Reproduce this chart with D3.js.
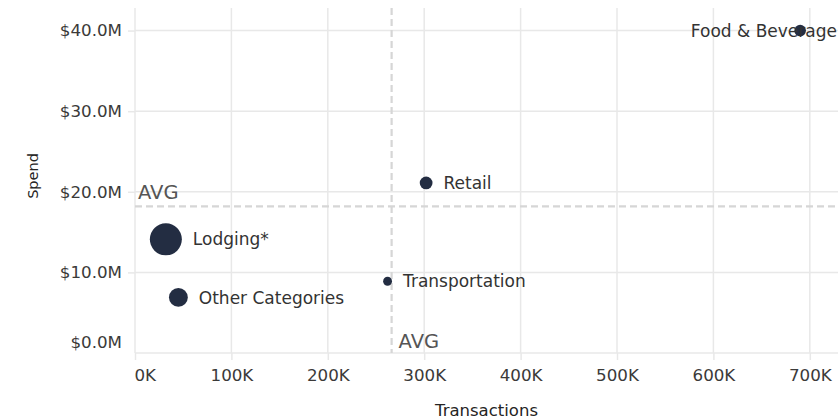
<!DOCTYPE html>
<html>
<head>
<meta charset="utf-8">
<script src="https://cdn.jsdelivr.net/npm/d3@7"></script>
<style>
  html, body { margin: 0; padding: 0; background: #ffffff; }
  svg { display: block; }
</style>
</head>
<body>
<svg id="chart" width="838" height="420"></svg>
<script>
// Spending categories: transactions vs. spend, bubble size = average ticket
const categories   = ["Food & Beverage", "Retail", "Lodging*", "Transportation", "Other Categories"];
const transactions = [690000, 302000, 32000, 262000, 45000];
const spend        = [40.0e6, 21.1e6, 14.1e6, 8.9e6, 6.9e6];
const xTicks = [0, 100000, 200000, 300000, 400000, 500000, 600000, 700000];
const yTicks = [0, 10e6, 20e6, 30e6, 40e6];

const W = 838, H = 420;
const plot = { left: 135, right: 858, top: 8, bottom: 353 };
const FONT = "'DejaVu Sans', Verdana, sans-serif";

const data = categories.map((c, i) => ({
  name: c,
  x: transactions[i],
  y: spend[i],
  ticket: spend[i] / transactions[i]
}));

const x = d3.scaleLinear().domain([0, 750000]).range([plot.left, plot.right]);
const y = d3.scaleLinear().domain([0, 42.8e6]).range([plot.bottom, plot.top]);
const r = d3.scaleSqrt().domain([0, d3.max(data, d => d.ticket)]).range([0, 16]);

const svg = d3.select("#chart");
const gridColor = "#e8e8e8";

// vertical gridlines
svg.append("g").selectAll("line").data(xTicks).join("line")
  .attr("x1", d => x(d)).attr("x2", d => x(d))
  .attr("y1", plot.top).attr("y2", plot.bottom)
  .attr("stroke", gridColor).attr("stroke-width", 1.5);

// horizontal gridlines
svg.append("g").selectAll("line").data(yTicks.filter(d => d > 0)).join("line")
  .attr("x1", plot.left).attr("x2", W)
  .attr("y1", d => y(d)).attr("y2", d => y(d))
  .attr("stroke", gridColor).attr("stroke-width", 1.5);

// baseline
svg.append("line")
  .attr("x1", plot.left).attr("x2", W)
  .attr("y1", plot.bottom).attr("y2", plot.bottom)
  .attr("stroke", gridColor).attr("stroke-width", 1.5);

// y axis
const yAxis = svg.append("g")
  .attr("transform", `translate(${plot.left},0)`)
  .call(d3.axisLeft(y).tickValues(yTicks)
    .tickFormat(d => "$" + (d / 1e6).toFixed(1) + "M")
    .tickSize(7).tickPadding(6));
yAxis.select(".domain").remove();
yAxis.selectAll(".tick line").attr("stroke", gridColor).attr("stroke-width", 1.5);
yAxis.selectAll(".tick text")
  .attr("fill", "#3b3a39")
  .style("font-family", FONT)
  .style("font-size", "16.7px");
yAxis.selectAll(".tick").filter(d => d === 0).select("line").remove();
yAxis.selectAll(".tick").filter(d => d === 0).select("text").attr("y", -11);

// x axis
const xAxis = svg.append("g")
  .attr("transform", `translate(0,${plot.bottom})`)
  .call(d3.axisBottom(x).tickValues(xTicks)
    .tickFormat(d => (d / 1000) + "K")
    .tickSize(7).tickPadding(9));
xAxis.select(".domain").remove();
xAxis.selectAll(".tick line").attr("stroke", gridColor).attr("stroke-width", 1.5);
xAxis.selectAll(".tick text")
  .attr("fill", "#3b3a39")
  .style("font-family", FONT)
  .style("font-size", "16.7px");
xAxis.selectAll(".tick").filter(d => d === 0).select("text")
  .attr("text-anchor", "start").attr("x", -1);

// average reference lines
const avgX = d3.mean(data, d => d.x);
const avgY = d3.mean(data, d => d.y);
const avgStyle = sel => sel.attr("stroke", "#d6d6d6").attr("stroke-width", 2.2)
  .attr("stroke-dasharray", "7,4");

svg.append("line")
  .attr("x1", plot.left).attr("x2", W)
  .attr("y1", y(avgY)).attr("y2", y(avgY))
  .call(avgStyle);
svg.append("line")
  .attr("x1", x(avgX)).attr("x2", x(avgX))
  .attr("y1", plot.top).attr("y2", plot.bottom)
  .call(avgStyle);

const avgFont = sel => sel.attr("fill", "#555555")
  .style("font-family", FONT)
  .style("font-size", "19.5px");
svg.append("text").text("AVG")
  .attr("x", plot.left + 3).attr("y", y(avgY) - 7)
  .call(avgFont);
svg.append("text").text("AVG")
  .attr("x", x(avgX) + 7).attr("y", plot.bottom - 5)
  .call(avgFont);

// bubbles
svg.append("g").selectAll("circle").data(data).join("circle")
  .attr("cx", d => x(d.x)).attr("cy", d => y(d.y))
  .attr("r", d => r(d.ticket))
  .attr("fill", "#232d42");

// data labels to the right of each bubble, pulled back at the right edge
svg.append("g").selectAll("text").data(data).join("text")
  .text(d => d.name)
  .attr("y", d => y(d.y))
  .attr("dy", "0.36em")
  .attr("fill", "#333333")
  .style("font-family", FONT)
  .style("font-size", "17px")
  .attr("x", function(d) {
    const w = this.getComputedTextLength();
    return Math.min(x(d.x) + r(d.ticket) + 11, W - 1 - w);
  });

// axis titles
svg.append("text").text("Transactions")
  .attr("x", (plot.left + W) / 2).attr("y", 416)
  .attr("text-anchor", "middle")
  .attr("fill", "#252423")
  .style("font-family", FONT)
  .style("font-size", "16.5px");
svg.append("text").text("Spend")
  .attr("transform", `translate(38,176) rotate(-90)`)
  .attr("text-anchor", "middle")
  .attr("fill", "#252423")
  .style("font-family", FONT)
  .style("font-size", "14.5px");
</script>
</body>
</html>
